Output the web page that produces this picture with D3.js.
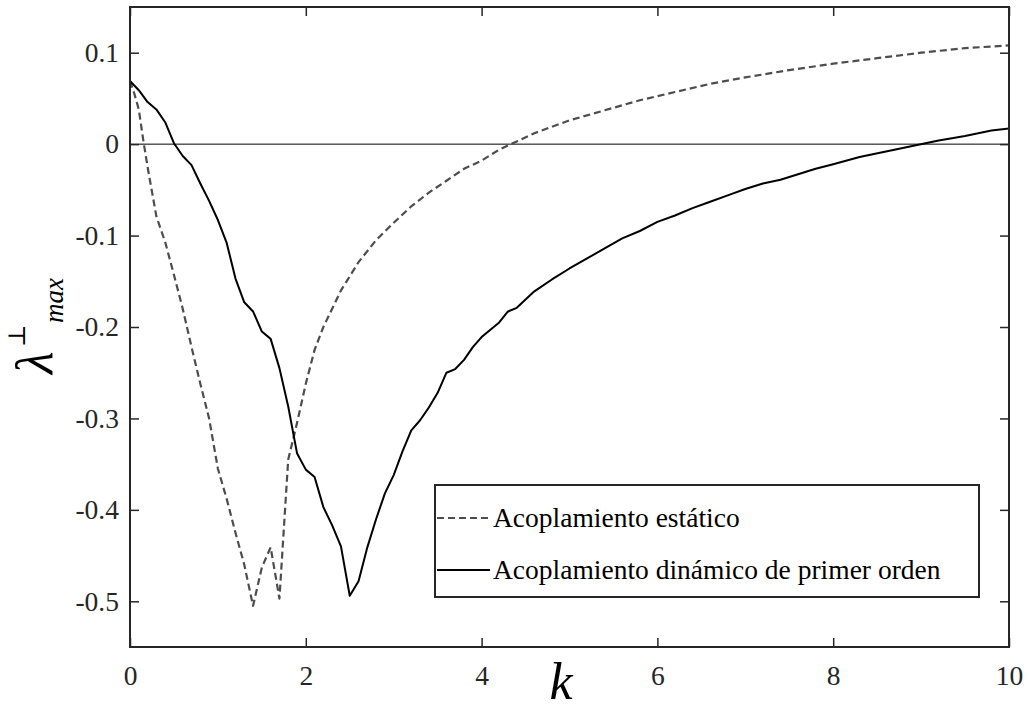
<!DOCTYPE html>
<html>
<head>
<meta charset="utf-8">
<script src="https://cdn.jsdelivr.net/npm/d3@7"></script>
<style>
  html, body { margin: 0; padding: 0; background: #fff; }
  svg { display: block; }
</style>
</head>
<body>
<svg id="chart" width="1030" height="711"></svg>
<script>
// Largest transverse Lyapunov exponent versus coupling strength k
const kStatic = [0, 0.05, 0.1, 0.15, 0.2, 0.3, 0.4, 0.5, 0.6, 0.7, 0.8, 0.9, 1.0, 1.1, 1.2, 1.3, 1.4,
  1.5, 1.6, 1.7, 1.8, 1.9, 2.0, 2.1, 2.2, 2.4, 2.6, 2.8, 3.0, 3.2, 3.4, 3.6, 3.8, 4.0, 4.2, 4.4,
  4.6, 4.8, 5.0, 5.4, 5.8, 6.2, 6.6, 7.0, 7.5, 8.0, 8.5, 9.0, 9.5, 10];
const lamStatic = [0.069, 0.055, 0.038, 0.005, -0.025, -0.079, -0.107, -0.143, -0.180, -0.222,
  -0.262, -0.300, -0.355, -0.388, -0.425, -0.460, -0.505, -0.463, -0.441, -0.497, -0.345, -0.305,
  -0.262, -0.225, -0.200, -0.160, -0.129, -0.105, -0.086, -0.068, -0.053, -0.040, -0.027, -0.018,
  -0.006, 0.003, 0.012, 0.019, 0.026, 0.037, 0.048, 0.057, 0.066, 0.073, 0.081, 0.088, 0.094,
  0.100, 0.105, 0.108];

const kDynamic = [0, 0.1, 0.2, 0.3, 0.4, 0.5, 0.6, 0.7, 0.8, 0.9, 1.0, 1.1, 1.2, 1.3, 1.4, 1.5,
  1.6, 1.7, 1.8, 1.9, 2.0, 2.1, 2.2, 2.3, 2.4, 2.5, 2.6, 2.7, 2.8, 2.9, 3.0, 3.1, 3.2, 3.3, 3.4,
  3.5, 3.6, 3.7, 3.8, 3.9, 4.0, 4.2, 4.3, 4.4, 4.6, 4.8, 5.0, 5.2, 5.4, 5.6, 5.8, 6.0, 6.2, 6.4,
  6.6, 6.8, 7.0, 7.2, 7.4, 7.6, 7.8, 8.0, 8.3, 8.6, 8.9, 9.2, 9.5, 9.8, 10];
const lamDynamic = [0.069, 0.059, 0.046, 0.038, 0.024, 0.001, -0.013, -0.023, -0.043, -0.062,
  -0.083, -0.108, -0.147, -0.173, -0.183, -0.205, -0.213, -0.245, -0.287, -0.338, -0.356, -0.364,
  -0.397, -0.417, -0.440, -0.494, -0.478, -0.441, -0.410, -0.382, -0.362, -0.336, -0.313, -0.302,
  -0.288, -0.272, -0.250, -0.246, -0.236, -0.222, -0.211, -0.195, -0.183, -0.179, -0.161, -0.148,
  -0.136, -0.125, -0.114, -0.103, -0.095, -0.085, -0.078, -0.070, -0.063, -0.056, -0.049, -0.043,
  -0.039, -0.033, -0.027, -0.022, -0.014, -0.008, -0.002, 0.004, 0.009, 0.015, 0.017];

const seriesNames = ["Acoplamiento estático", "Acoplamiento dinámico de primer orden"];
const xTicks = [0, 2, 4, 6, 8, 10];
const yTicks = [0.1, 0, -0.1, -0.2, -0.3, -0.4, -0.5];
const xDomain = [0, 10];
const yDomain = [-0.55, 0.15];

const FONT = '"Liberation Serif", "Times New Roman", Tinos, serif';
const svg = d3.select("#chart");
const plot = { left: 130, right: 1009, top: 7, bottom: 647 };
const frameColor = "#262626";

const x = d3.scaleLinear().domain(xDomain).range([plot.left, plot.right]);
const y = d3.scaleLinear().domain(yDomain).range([plot.bottom, plot.top]);

const fmtY = d => d === 0 ? "0" : d.toFixed(1);

// zero reference line
svg.append("line")
  .attr("x1", x(xDomain[0])).attr("x2", x(xDomain[1]))
  .attr("y1", y(0)).attr("y2", y(0))
  .attr("stroke", "#000").attr("stroke-width", 1);

const line = d3.line().x(d => x(d[0])).y(d => y(d[1]));
const staticPts = kStatic.map((k, i) => [k, lamStatic[i]]);
const dynamicPts = kDynamic.map((k, i) => [k, lamDynamic[i]]);

svg.append("path").datum(staticPts)
  .attr("d", line).attr("fill", "none")
  .attr("stroke", "#4d4d4d").attr("stroke-width", 2.2)
  .attr("stroke-dasharray", "7,4").attr("stroke-linejoin", "round");

svg.append("path").datum(dynamicPts)
  .attr("d", line).attr("fill", "none")
  .attr("stroke", "#000").attr("stroke-width", 2)
  .attr("stroke-linejoin", "round");

// axes with inward ticks on all four sides
function styleAxis(g) {
  g.select(".domain").remove();
  g.selectAll(".tick line").attr("stroke", frameColor).attr("stroke-width", 1.5);
  g.selectAll(".tick text")
    .style("font-family", FONT)
    .style("font-size", "27.5px")
    .style("fill", frameColor);
}

svg.append("g").attr("transform", `translate(0,${plot.bottom})`)
  .call(d3.axisBottom(x).tickValues(xTicks).tickSizeInner(-9).tickSizeOuter(0).tickPadding(18))
  .call(styleAxis);
svg.append("g").attr("transform", `translate(0,${plot.top})`)
  .call(d3.axisTop(x).tickValues(xTicks).tickSizeInner(-9).tickSizeOuter(0).tickFormat(""))
  .call(styleAxis);
svg.append("g").attr("transform", `translate(${plot.left},0)`)
  .call(d3.axisLeft(y).tickValues(yTicks).tickSizeInner(-9).tickSizeOuter(0).tickPadding(11).tickFormat(fmtY))
  .call(styleAxis);
svg.append("g").attr("transform", `translate(${plot.right},0)`)
  .call(d3.axisRight(y).tickValues(yTicks).tickSizeInner(-9).tickSizeOuter(0).tickFormat(""))
  .call(styleAxis);

// plot frame
svg.append("rect")
  .attr("x", plot.left).attr("y", plot.top)
  .attr("width", plot.right - plot.left).attr("height", plot.bottom - plot.top)
  .attr("fill", "none").attr("stroke", frameColor).attr("stroke-width", 2);

// x label
svg.append("text")
  .attr("x", 561).attr("y", 699)
  .attr("text-anchor", "middle")
  .style("font-family", FONT)
  .style("font-size", "52px").style("font-style", "italic")
  .style("fill", "#000")
  .text("k");

// y label: lambda with perpendicular superscript and "max" subscript
const yl = svg.append("g").attr("transform", "translate(52,374) rotate(-90)");
yl.append("text").attr("x", 0).attr("y", 0)
  .style("font-family", FONT)
  .style("font-size", "52px").style("font-style", "italic").style("fill", "#000")
  .text("λ");
yl.append("text").attr("x", 27).attr("y", -27)
  .style("font-family", '"DejaVu Serif", serif')
  .style("font-size", "24px").style("fill", "#000")
  .text("⊥");
yl.append("text").attr("x", 51).attr("y", 11)
  .style("font-family", FONT)
  .style("font-size", "27px").style("font-style", "italic").style("fill", "#000")
  .text("max");

// legend
const lg = { left: 435, top: 485, right: 979, bottom: 597 };
svg.append("rect")
  .attr("x", lg.left).attr("y", lg.top)
  .attr("width", lg.right - lg.left).attr("height", lg.bottom - lg.top)
  .attr("fill", "#fff").attr("stroke", frameColor).attr("stroke-width", 2);

const legendRows = [
  { name: seriesNames[0], color: "#4d4d4d", dash: "7,4", cy: 518 },
  { name: seriesNames[1], color: "#000", dash: null, cy: 570 }
];
legendRows.forEach(r => {
  svg.append("line")
    .attr("x1", 437).attr("x2", 490).attr("y1", r.cy).attr("y2", r.cy)
    .attr("stroke", r.color).attr("stroke-width", 2)
    .attr("stroke-dasharray", r.dash);
  svg.append("text")
    .attr("x", 493).attr("y", r.cy + 9)
    .style("font-family", FONT)
    .style("font-size", "27.5px").style("fill", "#000")
    .text(r.name);
});
</script>
</body>
</html>
